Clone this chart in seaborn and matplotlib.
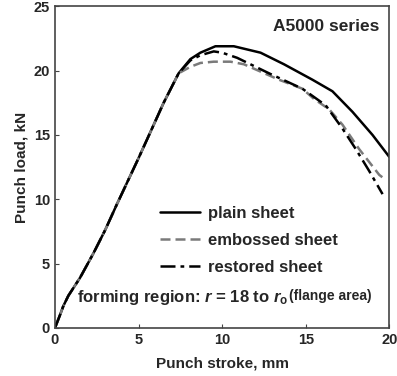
import matplotlib
matplotlib.use("Agg")
import matplotlib.pyplot as plt
import seaborn as sns
import pandas as pd

plain_x = [0, 0.3, 0.5, 0.8, 1.5, 2.3, 3.0, 3.7, 5.0, 5.7, 6.5, 7.4, 8.1, 8.7, 9.6, 10.7, 12.3, 13.7, 15.4, 16.6, 17.8, 19.0, 20.0]
plain_y = [0, 1.0, 1.7, 2.5, 3.9, 5.8, 7.6, 9.6, 13.2, 15.2, 17.5, 19.8, 20.9, 21.4, 21.9, 21.9, 21.4, 20.5, 19.3, 18.4, 16.8, 15.0, 13.3]
emb_x = [0, 0.3, 0.5, 0.8, 1.5, 2.3, 3.0, 3.7, 5.0, 5.7, 6.5, 7.4, 8.1, 8.7, 9.5, 10.5, 11.3, 13.4, 14.8, 15.5, 16.4, 17.2, 18.2, 19.4, 19.7]
emb_y = [0, 1.0, 1.7, 2.5, 3.9, 5.8, 7.6, 9.6, 13.2, 15.2, 17.5, 19.8, 20.3, 20.6, 20.7, 20.7, 20.5, 19.3, 18.6, 17.8, 17.0, 15.8, 13.9, 11.9, 11.6]
res_x = [0, 0.3, 0.5, 0.8, 1.5, 2.3, 3.0, 3.7, 5.0, 5.7, 6.5, 7.4, 8.1, 8.7, 9.5, 10.0, 10.9, 12.8, 14.8, 16.2, 17.2, 18.0, 18.8, 19.6]
res_y = [0, 1.0, 1.7, 2.5, 3.9, 5.8, 7.6, 9.6, 13.2, 15.2, 17.5, 19.8, 20.8, 21.2, 21.5, 21.4, 21.0, 19.8, 18.6, 17.3, 15.5, 13.9, 12.2, 10.4]
labels = ["plain sheet", "embossed sheet", "restored sheet"]
x_ticks = [0, 5, 10, 15, 20]
y_ticks = [0, 5, 10, 15, 20, 25]

sns.set_style("ticks")
plt.rcParams['font.family'] = ['Liberation Sans', 'DejaVu Sans']
plt.rcParams['font.weight'] = 'bold'
plt.rcParams['mathtext.fontset'] = 'custom'
plt.rcParams['mathtext.rm'] = 'Liberation Sans:bold'
plt.rcParams['mathtext.it'] = 'Liberation Sans:italic:bold'

fig = plt.figure(figsize=(3.97, 3.76), dpi=100)
ax = fig.add_axes([0.1385, 0.128, 0.842, 0.855])

df1 = pd.DataFrame({"x": plain_x, "y": plain_y})
df2 = pd.DataFrame({"x": emb_x, "y": emb_y})
df3 = pd.DataFrame({"x": res_x, "y": res_y})
sns.lineplot(data=df1, x="x", y="y", ax=ax, color="black", lw=1.8, label=labels[0])
sns.lineplot(data=df2, x="x", y="y", ax=ax, color="#7a7a7a", lw=1.8, linestyle=(0, (4, 2)), label=labels[1])
sns.lineplot(data=df3, x="x", y="y", ax=ax, color="black", lw=1.8, linestyle=(0, (6, 2, 1.5, 2)), label=labels[2])

ax.set_xlim(0, 20)
ax.set_ylim(0, 25)
ax.set_xticks(x_ticks)
ax.set_yticks(y_ticks)
ax.tick_params(direction="in", labelsize=10.5, length=3, color="#444444")
for lab in ax.get_xticklabels() + ax.get_yticklabels():
    lab.set_fontweight("bold")
for s in ax.spines.values():
    s.set_color("#444444")
    s.set_linewidth(1.2)
ax.set_xlabel("Punch stroke, mm", fontsize=11, fontweight="bold", labelpad=7)
ax.set_ylabel("Punch load, kN", fontsize=11, fontweight="bold", labelpad=4)

ax.text(0.97, 0.962, "A5000 series", transform=ax.transAxes, ha="right", va="top",
        fontsize=12.5, fontweight="bold")

leg = ax.legend(loc="center left", bbox_to_anchor=(0.268, 0.272), frameon=False,
                handlelength=2.4, labelspacing=0.7, handletextpad=0.5,
                prop={"weight": "bold", "size": 12})

t1 = ax.text(0.066, 0.095, r"forming region: $r$ = 18 to $r_{\mathrm{o}}$ ", transform=ax.transAxes,
             ha="left", va="center", fontsize=12, fontweight="bold")
ax.annotate("(flange area)", xy=(1, 0.22), xycoords=t1, ha="left", va="bottom",
            fontsize=10, fontweight="bold")

fig.savefig("out.png", dpi=100)
